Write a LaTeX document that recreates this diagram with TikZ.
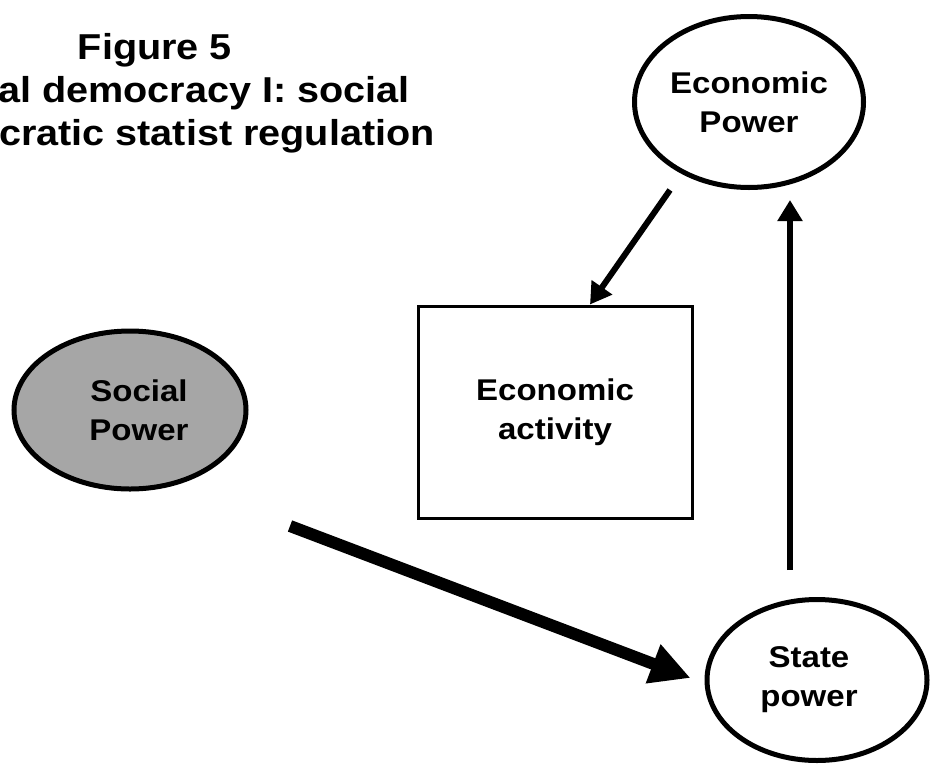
\documentclass[tikz,border=0pt]{standalone}
\usepackage{fontspec}
\setmainfont{Liberation Sans}[FakeStretch=1.1]
\usetikzlibrary{shapes.geometric,arrows.meta}
\definecolor{socialgray}{RGB}{166,166,166}
\newcommand{\powerfont}{\fontsize{30}{39}\selectfont\bfseries}
\newcommand{\headfont}{\fontsize{36}{43}\selectfont\bfseries}

\begin{document}
\begin{tikzpicture}[x=1pt,y=-1pt,
    power/.style={ellipse,draw,line width=5pt,inner sep=0pt,align=center,font=\powerfont},
    actbox/.style={rectangle,draw,line width=3pt,inner sep=0pt,align=center,font=\powerfont,
        minimum width=274pt,minimum height=212pt},
    thinarrow/.style={line width=6pt,-{Triangle[length=21pt,width=24pt]}},
    thickarrow/.style={line width=12pt,-{Triangle[length=40pt,width=39pt]}}]
            \useasboundingbox (0,0) rectangle (932,769);

            % Title lines
            \node[font=\headfont,anchor=base,inner sep=0pt] (t1) at (155,59) {Figure 5};
            \node[font=\headfont,anchor=base east,inner sep=0pt] (t2) at (410,102) {al democracy I: social};
            \node[font=\headfont,anchor=base east,inner sep=0pt] (t3) at (435,145) {cratic statist regulation};

            % Power nodes
            \node[power,minimum width=229pt,minimum height=171pt] (epow) at (749,102) {Economic\\Power};
            \node[power,fill=socialgray,minimum width=232pt,minimum height=158pt,
                label={[xshift=9pt,align=center,font=\powerfont]center:Social\\Power}] (spow) at (130,410) {};
            \node[power,minimum width=220pt,minimum height=161pt,
                label={[xshift=-8pt,align=center,font=\powerfont]center:State\\power}] (stpow) at (817,680) {};

            % Economic activity box
            \node[actbox] (act) at (555,412) {Economic\\activity};

            % Arrows
            \draw[thinarrow] ([xshift=-79pt]epow.south) -- ([xshift=35pt]act.north);
            \draw[thinarrow] ([xshift=-27pt,yshift=27pt]stpow.north) -- ([xshift=41pt,yshift=-10pt]epow.south);
            \coordinate (spout) at (290,526);
            \draw[thickarrow] (spout) -- ([xshift=-14pt,yshift=2pt]stpow.west);
\end{tikzpicture}
\end{document}
